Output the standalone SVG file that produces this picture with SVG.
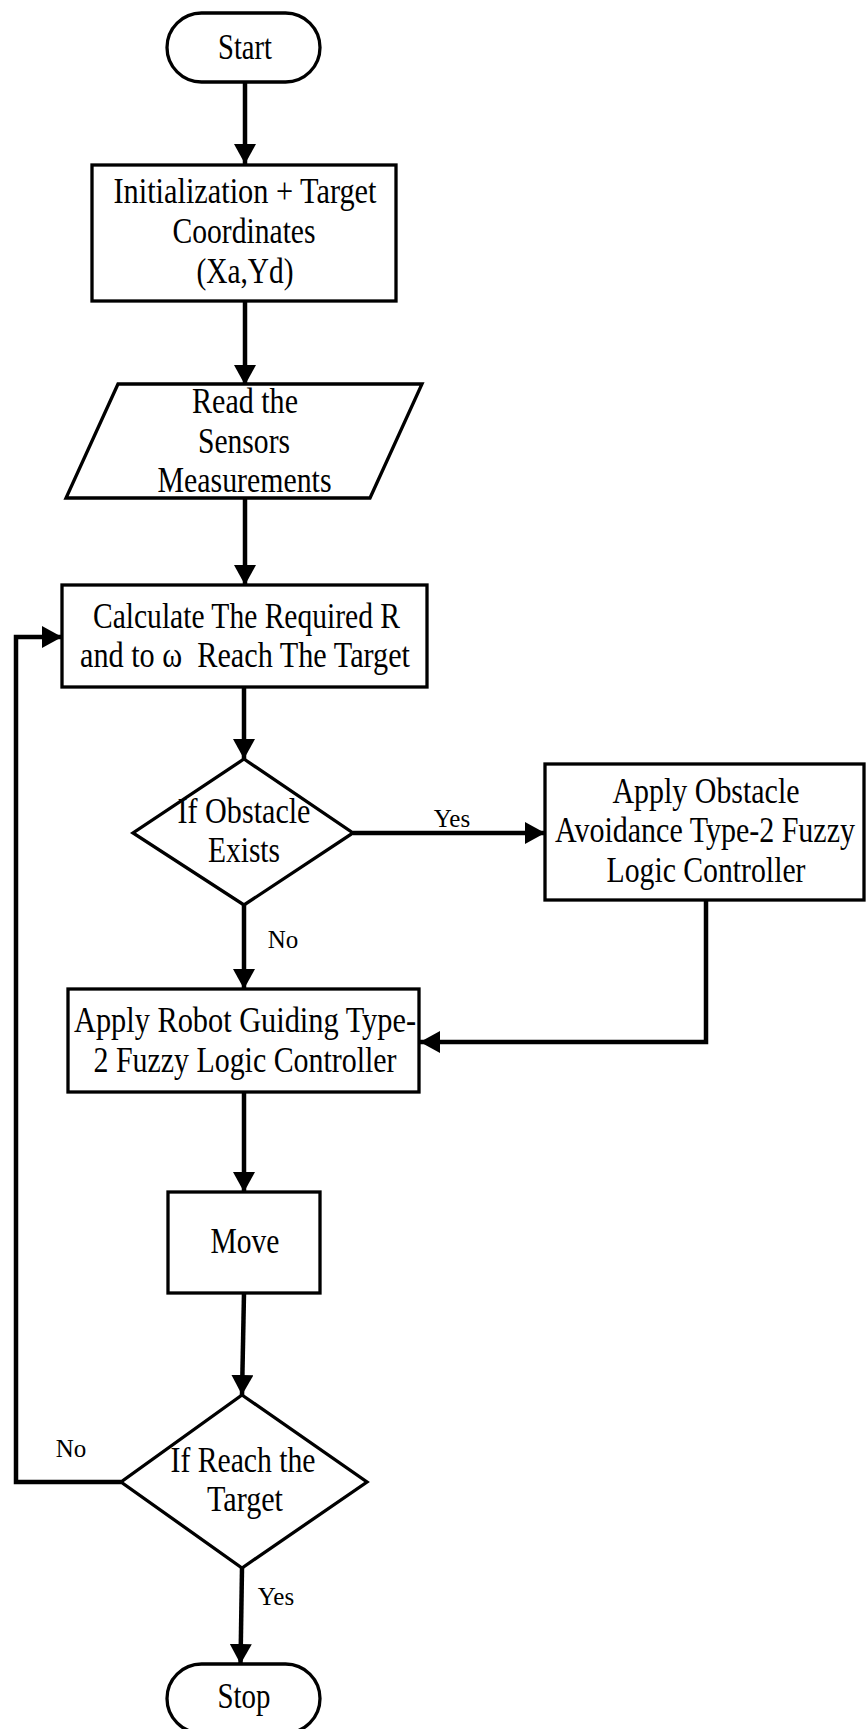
<svg xmlns="http://www.w3.org/2000/svg" width="866" height="1729" viewBox="0 0 866 1729">
  <defs>
    <marker id="arrow" markerUnits="userSpaceOnUse" markerWidth="20" markerHeight="22" refX="20" refY="11" orient="auto">
      <path d="M0,0 L20,11 L0,22 z" fill="#000"/>
    </marker>
    <style>
      .shape { fill: #fff; stroke: #000; stroke-width: 3.3; }
      .conn { fill: none; stroke: #000; stroke-width: 4.5; }
      .arrow { marker-end: url(#arrow); }
      .t { font-family: "Liberation Serif", "Times New Roman", serif; font-size: 35px; fill: #000; text-anchor: middle; }
      .lbl { font-family: "Liberation Serif", "Times New Roman", serif; font-size: 25px; fill: #000; text-anchor: middle; }
    </style>
  </defs>
  <rect width="866" height="1729" fill="#fff"/>

  <!-- connectors -->
  <g id="connectors">
    <line class="conn arrow" x1="245" y1="82" x2="245" y2="164"/>
    <line class="conn arrow" x1="245" y1="301" x2="245" y2="385"/>
    <line class="conn arrow" x1="245" y1="498" x2="245" y2="585"/>
    <line class="conn arrow" x1="244" y1="687" x2="244" y2="759"/>
    <line class="conn arrow" x1="353" y1="833" x2="545" y2="833"/>
    <line class="conn arrow" x1="244" y1="905" x2="244" y2="989"/>
    <polyline class="conn arrow" points="706,900 706,1042 420,1042"/>
    <line class="conn arrow" x1="244" y1="1092" x2="244" y2="1192"/>
    <line class="conn arrow" x1="244" y1="1293" x2="242" y2="1395"/>
    <line class="conn arrow" x1="242" y1="1568" x2="240.5" y2="1664"/>
    <polyline class="conn arrow" points="121,1482 16,1482 16,637 62,637"/>
    <text class="lbl" x="452" y="827">Yes</text>
    <text class="lbl" x="283" y="948">No</text>
    <text class="lbl" x="71" y="1457">No</text>
    <text class="lbl" x="276" y="1605">Yes</text>
  </g>

  <g id="start">
    <rect class="shape" x="167" y="13" width="153" height="69" rx="34.5"/>
    <text class="t" x="245" y="59" textLength="54" lengthAdjust="spacingAndGlyphs">Start</text>
  </g>

  <g id="init">
    <rect class="shape" x="92" y="165" width="304" height="136"/>
    <text class="t" x="245" y="203" textLength="263" lengthAdjust="spacingAndGlyphs">Initialization + Target</text>
    <text class="t" x="244" y="243" textLength="143" lengthAdjust="spacingAndGlyphs">Coordinates</text>
    <text class="t" x="245" y="283" textLength="97" lengthAdjust="spacingAndGlyphs">(Xa,Yd)</text>
  </g>

  <g id="read-sensors">
    <polygon class="shape" points="118,384 422,384 370,498 66,498"/>
    <text class="t" x="245" y="413" textLength="106" lengthAdjust="spacingAndGlyphs">Read the</text>
    <text class="t" x="244" y="453" textLength="92" lengthAdjust="spacingAndGlyphs">Sensors</text>
    <text class="t" x="244.5" y="492" textLength="174" lengthAdjust="spacingAndGlyphs">Measurements</text>
  </g>

  <g id="calculate">
    <rect class="shape" x="62" y="585" width="365" height="102"/>
    <text class="t" x="246.5" y="628" textLength="307" lengthAdjust="spacingAndGlyphs">Calculate The Required R</text>
    <text class="t" x="245" y="667" textLength="330" lengthAdjust="spacingAndGlyphs" xml:space="preserve">and to ω  Reach The Target</text>
  </g>

  <g id="obstacle-check">
    <polygon class="shape" points="244,759 353,833 244,905 133,833"/>
    <text class="t" x="244" y="823" textLength="133" lengthAdjust="spacingAndGlyphs">If Obstacle</text>
    <text class="t" x="244" y="862" textLength="72" lengthAdjust="spacingAndGlyphs">Exists</text>
  </g>

  <g id="avoidance">
    <rect class="shape" x="545" y="764" width="319" height="136"/>
    <text class="t" x="706" y="803" textLength="187" lengthAdjust="spacingAndGlyphs">Apply Obstacle</text>
    <text class="t" x="705" y="842" textLength="300" lengthAdjust="spacingAndGlyphs">Avoidance Type-2 Fuzzy</text>
    <text class="t" x="706" y="882" textLength="199" lengthAdjust="spacingAndGlyphs">Logic Controller</text>
  </g>

  <g id="guiding">
    <rect class="shape" x="68" y="989" width="351" height="103"/>
    <text class="t" x="245" y="1032" textLength="342" lengthAdjust="spacingAndGlyphs">Apply Robot Guiding Type-</text>
    <text class="t" x="245" y="1072" textLength="303" lengthAdjust="spacingAndGlyphs">2 Fuzzy Logic Controller</text>
  </g>

  <g id="move">
    <rect class="shape" x="168" y="1192" width="152" height="101"/>
    <text class="t" x="245" y="1253" textLength="69" lengthAdjust="spacingAndGlyphs">Move</text>
  </g>

  <g id="target-check">
    <polygon class="shape" points="242,1395 367,1482 242,1568 121,1482"/>
    <text class="t" x="243" y="1472" textLength="145" lengthAdjust="spacingAndGlyphs">If Reach the</text>
    <text class="t" x="245" y="1511" textLength="76" lengthAdjust="spacingAndGlyphs">Target</text>
  </g>

  <g id="stop">
    <rect class="shape" x="167" y="1664" width="153" height="69" rx="34.5"/>
    <text class="t" x="244" y="1708" textLength="53" lengthAdjust="spacingAndGlyphs">Stop</text>
  </g>
</svg>
